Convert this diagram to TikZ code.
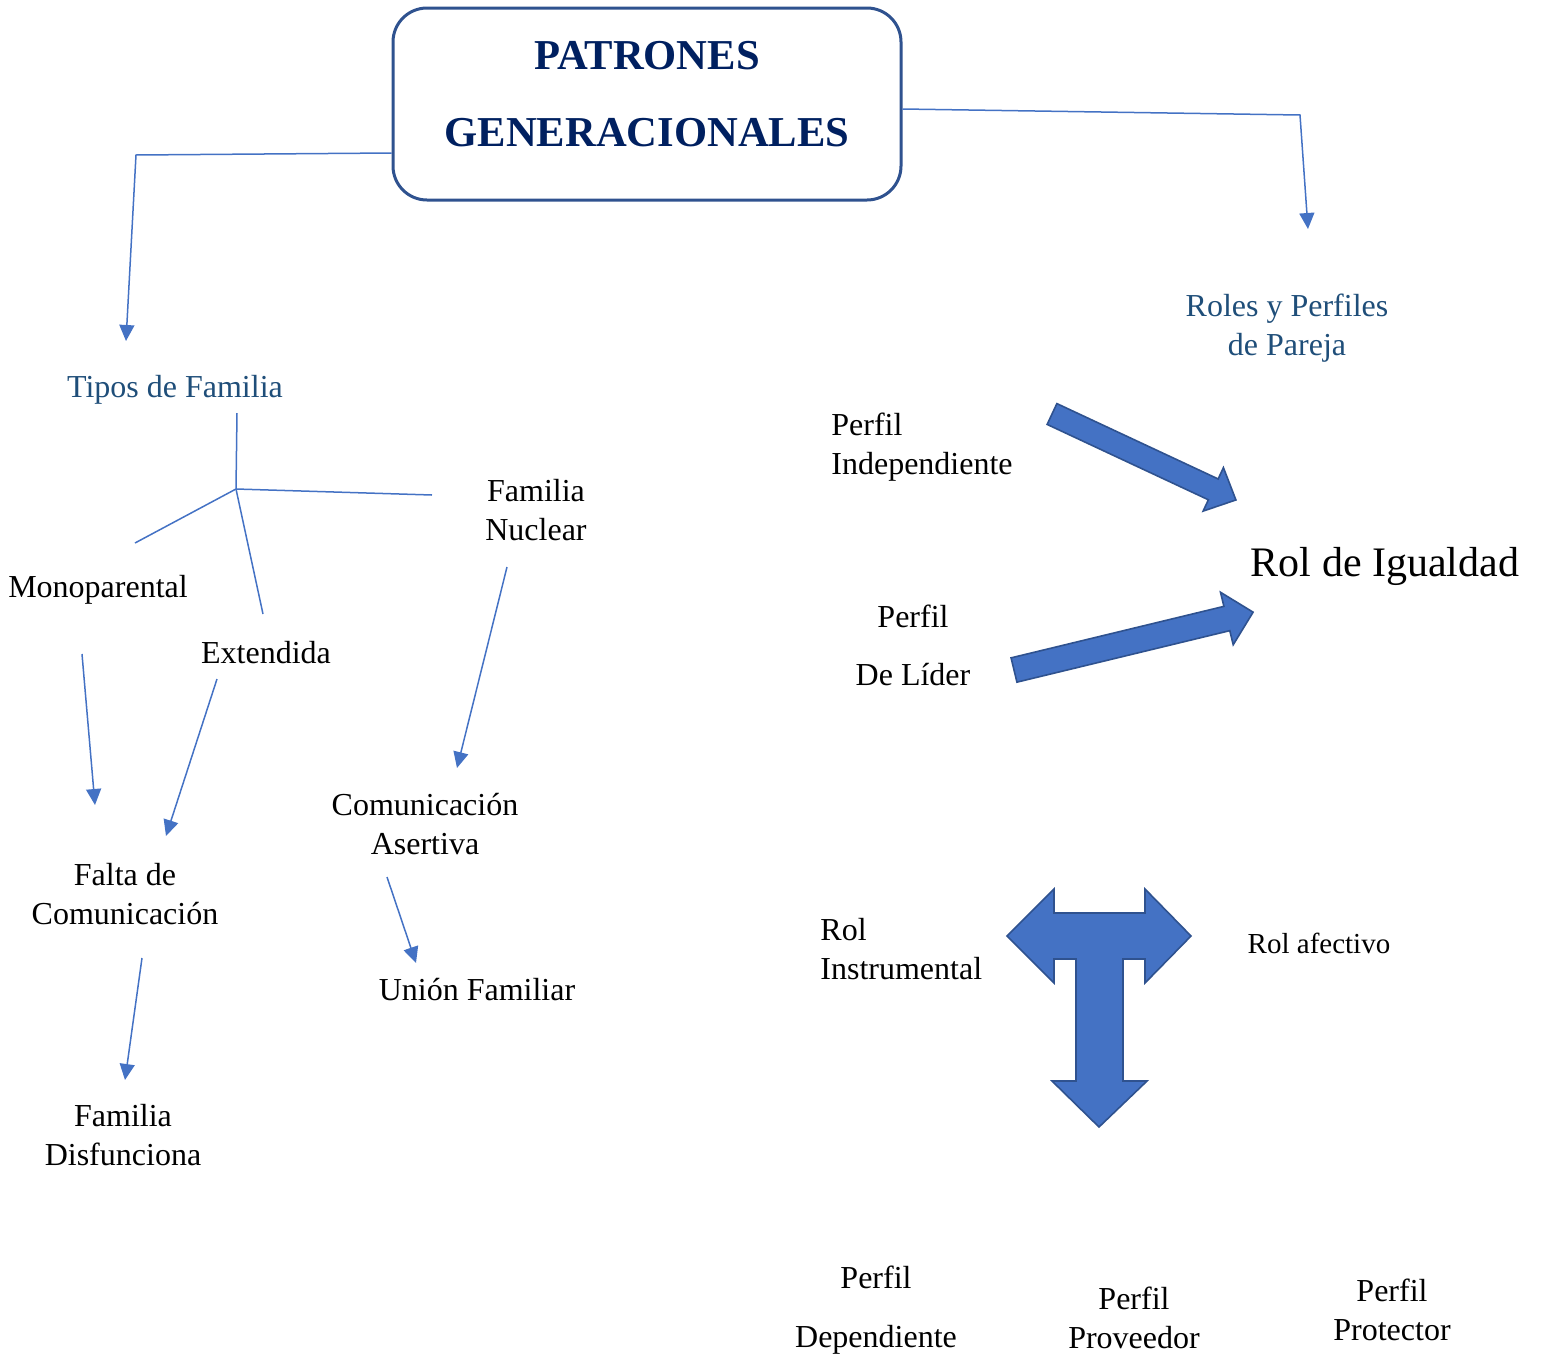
\documentclass[tikz,border=0pt]{standalone}
\usepackage{fontspec}
\setmainfont{Liberation Serif}
\usetikzlibrary{arrows.meta}
\definecolor{azul}{HTML}{4472C4}
\definecolor{borde}{HTML}{2F528F}
\definecolor{marino}{HTML}{002060}
\definecolor{azultit}{HTML}{1F4E79}

\begin{document}
\begin{tikzpicture}[x=0.5pt, y=-0.5pt,
		every node/.style = {font=\fontsize{16}{19.5}\selectfont, align=center, inner sep=0pt},
		rama/.style = {draw=azul, line width=0.75pt},
		flechita/.style = {rama, -{Triangle[length=8pt, width=7.5pt]}},
		subtitulo/.style = {text=azultit},
		bloque/.style = {fill=azul, draw=borde, line width=0.8pt, line join=miter}]
	\useasboundingbox (0,0) rectangle (1542,1355);

	% caja del titulo
	\node[draw=borde, line width=1.5pt, rounded corners=17pt, minimum width=254pt, minimum height=96pt] (titulo) at (647,104) {};
	\node[text=marino, font=\bfseries\fontsize{21.3}{38.5}\selectfont] (titulotxt) at (647,94) {PATRONES\\GENERACIONALES};

	% etiquetas
	\node[subtitulo] (tipos) at (175,390) {Tipos de Familia};
	\node[subtitulo] (roles) at (1287,328) {Roles y Perfiles\\de Pareja};
	\node (nuclear) at (536,510) {Familia\\Nuclear};
	\node (mono) at (98,590) {Monoparental};
	\node (ext) at (266,653) {Extendida};
	\node (asertiva) at (425,824) {Comunicación\\Asertiva};
	\node (falta) at (125,894) {Falta de\\Comunicación};
	\node (union) at (477,990) {Unión Familiar};
	\node (disf) at (123,1135) {Familia\\Disfunciona};
	\node[anchor=west, align=left] (indep) at (831,447) {Perfil\\Independiente};
	\node (lider) at (913,645) {Perfil\\[9.5pt]De Líder};
	\node[font=\fontsize{21}{25}\selectfont] (igualdad) at (1385,566) {Rol de Igualdad};
	\node[anchor=west, align=left] (instr) at (820,949) {Rol\\Instrumental};
	\node[font=\fontsize{14.5}{18}\selectfont] (afectivo) at (1319,943) {Rol afectivo};
	\node (dep) at (876,1310) {Perfil\\[10pt]Dependiente};
	\node (prov) at (1134,1318) {Perfil\\Proveedor};
	\node (prot) at (1392,1310) {Perfil\\Protector};

	% puntos de los conectores
	\coordinate (codoI) at (136,155);
	\coordinate (puntaI) at (126,341);
	\coordinate (codoD) at (1300,115);
	\coordinate (puntaD) at (1308,229);
	\coordinate (raiz) at (237,413);
	\coordinate (nudo) at (236,489);
	\coordinate (aNuclear) at (432,495);
	\coordinate (aMono) at (135,543);
	\coordinate (aExt) at (263,614);
	\coordinate (m1) at (82,654);   \coordinate (m2) at (95,805);
	\coordinate (e1) at (217,679);  \coordinate (e2) at (166,836);
	\coordinate (n1) at (507,567);  \coordinate (n2) at (457,768);
	\coordinate (c1) at (387,877);  \coordinate (c2) at (416,963);
	\coordinate (f1) at (142,958);  \coordinate (f2) at (125,1080);

	% conectores
	\draw[flechita] ([yshift=-24.5pt]titulo.west) -- (codoI) -- (puntaI);
	\draw[flechita] ([yshift=-2.5pt]titulo.east) -- (codoD) -- (puntaD);
	\draw[rama] (raiz) -- (nudo);
	\draw[rama] (nudo) -- (aNuclear);
	\draw[rama] (nudo) -- (aMono);
	\draw[rama] (nudo) -- (aExt);
	\draw[flechita] (m1) -- (m2);
	\draw[flechita] (e1) -- (e2);
	\draw[flechita] (n1) -- (n2);
	\draw[flechita] (c1) -- (c2);
	\draw[flechita] (f1) -- (f2);

	% flechas gruesas hacia el rol de igualdad
	\begin{scope}[shift={(1052,414)}, rotate=-25.05]
		\draw[bloque] (0,-11.5) -- (178,-11.5) -- (178,-24) -- (203,0) -- (178,24) -- (178,11.5) -- (0,11.5) -- cycle;
	\end{scope}
	\begin{scope}[shift={(1014,670)}, rotate=13.6]
		\draw[bloque] (0,-12.5) -- (219,-12.5) -- (219,-27) -- (246,0) -- (219,27) -- (219,12.5) -- (0,12.5) -- cycle;
	\end{scope}

	% flecha en T
	\draw[bloque] (1007,936) -- (1054,889) -- (1054,913) -- (1145,913) -- (1145,889) -- (1191,936)
		-- (1145,983) -- (1145,959) -- (1123,959) -- (1123,1081) -- (1147,1081) -- (1099,1127)
		-- (1052,1081) -- (1076,1081) -- (1076,959) -- (1054,959) -- (1054,983) -- cycle;
\end{tikzpicture}
\end{document}
